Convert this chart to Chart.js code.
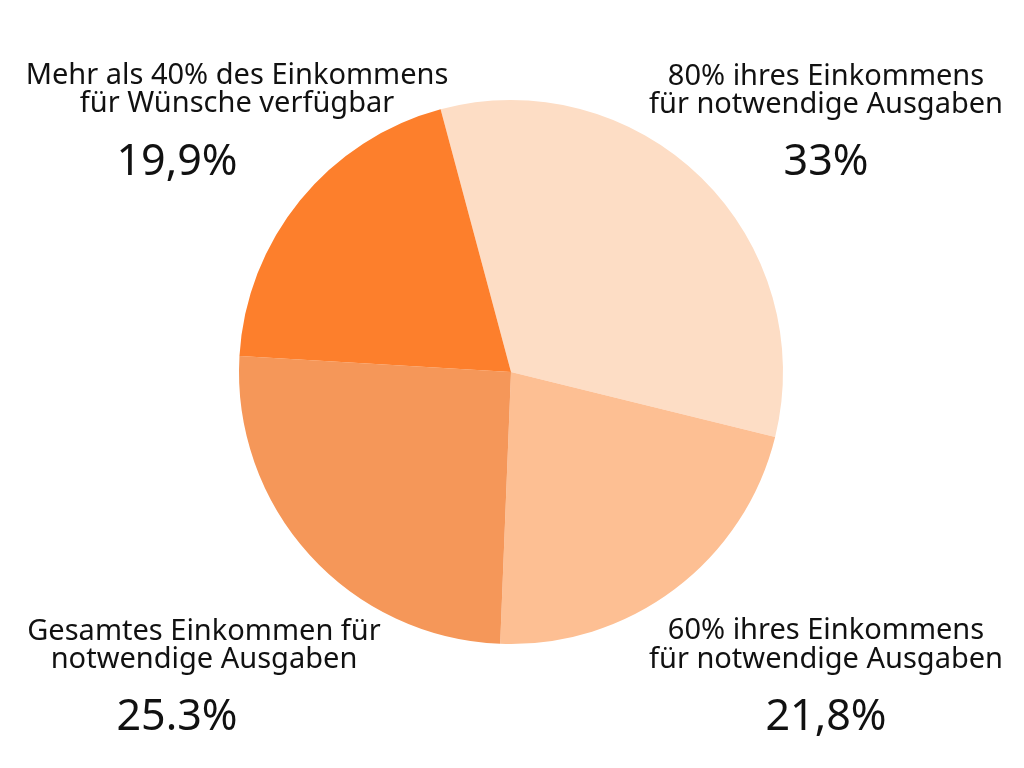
<!DOCTYPE html>
<html lang="de">
<head>
    <meta charset="UTF-8">
    <title>Einkommen</title>
    <script src="https://cdn.jsdelivr.net/npm/chart.js"></script>
    <style>
        body {
            margin: 0;
            background-color: #ffffff;
        }
        #wrap {
            width: 1024px;
            height: 768px;
        }
    </style>
</head>
<body>
    <div id="wrap"><canvas id="pieChart" width="1024" height="768"></canvas></div>

    <script>
        // Daten
        const labels = [
            ['80% ihres Einkommens', 'für notwendige Ausgaben'],
            ['60% ihres Einkommens', 'für notwendige Ausgaben'],
            ['Gesamtes Einkommen für', 'notwendige Ausgaben'],
            ['Mehr als 40% des Einkommens', 'für Wünsche verfügbar']
        ];
        const values = [33, 21.8, 25.3, 19.9];
        const valueTexts = ['33%', '21,8%', '25.3%', '19,9%'];
        const colors = ['#FDDDC5', '#FDBF93', '#F59759', '#FD7F2C'];

        // Position der Beschriftungen (Textmitte)
        const labelPos = [
            { x: 826, y1: 77, y2: 105, px: 826, py: 163 },
            { x: 826, y1: 631, y2: 660, px: 826, py: 718 },
            { x: 204, y1: 632, y2: 660, px: 177, py: 718 },
            { x: 237, y1: 76, y2: 104, px: 177, py: 163 }
        ];

        const textPlugin = {
            id: 'textLabels',
            afterDraw(chart) {
                const ctx = chart.ctx;
                ctx.save();
                ctx.fillStyle = '#111111';
                ctx.textAlign = 'center';
                ctx.textBaseline = 'middle';
                labels.forEach((lines, i) => {
                    const p = labelPos[i];
                    ctx.font = '29px "Noto Sans"';
                    ctx.fillText(lines[0], p.x, p.y1);
                    ctx.fillText(lines[1], p.x, p.y2);
                    ctx.font = '43px "Noto Sans"';
                    ctx.fillText(valueTexts[i], p.px, p.py);
                });
                ctx.restore();
            }
        };

        new Chart(document.getElementById('pieChart'), {
            type: 'pie',
            data: {
                labels: labels.map(l => l.join(' ')),
                datasets: [{
                    data: values,
                    backgroundColor: colors,
                    borderWidth: 0
                }]
            },
            options: {
                responsive: false,
                animation: false,
                rotation: -15,
                layout: {
                    padding: { top: 100, bottom: 124, left: 239, right: 241 }
                },
                plugins: {
                    legend: { display: false },
                    tooltip: { enabled: false }
                }
            },
            plugins: [textPlugin]
        });
    </script>
</body>
</html>
